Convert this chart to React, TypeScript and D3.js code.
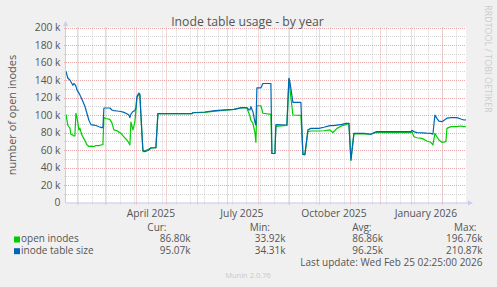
import React, { useEffect } from "react";
import * as d3 from "d3";

// ---- data ----
const dates: string[] = [
  "2025-01-21", "2025-01-23", "2025-01-25", "2025-01-26", "2025-01-28", "2025-01-29", "2025-01-30", "2025-01-31",
  "2025-02-01", "2025-02-03", "2025-02-04", "2025-02-06", "2025-02-09", "2025-02-11", "2025-02-13", "2025-02-15",
  "2025-02-18", "2025-02-20", "2025-02-23", "2025-02-26", "2025-02-27", "2025-02-28", "2025-03-02", "2025-03-06",
  "2025-03-08", "2025-03-10", "2025-03-13", "2025-03-17", "2025-03-20", "2025-03-23", "2025-03-25", "2025-03-26",
  "2025-03-27", "2025-03-29", "2025-03-31", "2025-04-01", "2025-04-02", "2025-04-04", "2025-04-05", "2025-04-06",
  "2025-04-08", "2025-04-10", "2025-04-14", "2025-04-16", "2025-04-21", "2025-04-23", "2025-05-27", "2025-05-28",
  "2025-06-09", "2025-06-19", "2025-07-08", "2025-07-16", "2025-07-21", "2025-07-23", "2025-07-24", "2025-07-25",
  "2025-07-27", "2025-07-29", "2025-07-30", "2025-07-31", "2025-08-04", "2025-08-06", "2025-08-14", "2025-08-15",
  "2025-08-18", "2025-08-19", "2025-08-30", "2025-09-01", "2025-09-02", "2025-09-05", "2025-09-13", "2025-09-15",
  "2025-09-17", "2025-09-20", "2025-09-23", "2025-10-01", "2025-10-06", "2025-10-12", "2025-10-15", "2025-10-19",
  "2025-10-24", "2025-10-28", "2025-10-31", "2025-11-02", "2025-11-05", "2025-11-15", "2025-11-22", "2025-11-25",
  "2025-11-28", "2026-01-01", "2026-01-02", "2026-01-04", "2026-01-07", "2026-01-12", "2026-01-17", "2026-01-21",
  "2026-01-23", "2026-01-25", "2026-01-27", "2026-01-29", "2026-02-01", "2026-02-05", "2026-02-06", "2026-02-10",
  "2026-02-16", "2026-02-20", "2026-02-23", "2026-02-25",
];

// values in thousands
const openInodes: number[] = [
  101, 88, 85, 78, 77, 76, 76, 102,
  98, 83, 85, 77, 71, 66, 64, 64.5,
  64, 65, 65, 66, 66, 97, 96, 95,
  91, 83, 82, 79, 75, 71.4, 68, 65.7,
  92, 83, 92, 105, 119, 124, 122, 100,
  58, 59, 61, 62, 62.6, 101.5, 101.5, 102.6,
  103, 104.5, 106.5, 108.4, 108, 102, 99, 94,
  90.5, 80, 68.8, 110.6, 110.6, 102, 100.8, 56,
  56, 87, 88, 141, 130, 100, 99.5, 55,
  54.5, 81, 81.7, 81.7, 82, 82.9, 80, 84.7,
  87.8, 89, 90.5, 48, 78.5, 78.3, 78, 79.5,
  79.8, 79.8, 81, 75.2, 74, 73.3, 70.3, 68.8,
  65.7, 79, 75.2, 71.4, 68.8, 69.5, 84.7, 86.7,
  86.7, 87.4, 86.8, 86.8,
];

const inodeTableSize: number[] = [
  150, 142, 140, 138, 134, 136, 135, 133,
  129, 125, 123, 118, 110, 102, 94, 89,
  88.5, 88, 86.6, 85.5, 85.5, 108, 108, 108,
  105.7, 105, 104.6, 104, 103, 101.5, 100, 97,
  101, 104, 105, 108, 121, 125, 124, 100,
  60, 58, 60, 62.6, 62.6, 101.5, 101.5, 102.6,
  103.4, 105, 106.5, 108.4, 108.4, 106, 105.7, 109.5,
  103.8, 92, 88.6, 131, 131, 136, 136, 56,
  56, 89, 88.6, 142, 138, 114.5, 114.5, 55,
  55, 83, 84.7, 84.7, 86, 87.8, 87.8, 88.5,
  89.3, 90.5, 90.5, 48.6, 79, 79, 78, 79.8,
  81, 81, 82.5, 81, 79.8, 79.6, 79.2, 79,
  78, 100, 96.2, 93.1, 92.4, 95.4, 96.5, 97,
  97, 95.4, 94.3, 94.5,
];

const yTickValues: number[] = [0, 20, 40, 60, 80, 100, 120, 140, 160, 180, 200];
const yTickLabels: string[] = ["0", "20 k", "40 k", "60 k", "80 k", "100 k", "120 k", "140 k", "160 k", "180 k", "200 k"];
const xLabelMonths: string[] = ["2025-04-01", "2025-07-01", "2025-10-01", "2026-01-01"];
const xLabelTexts: string[] = ["April 2025", "July 2025", "October 2025", "January 2026"];

const seriesNames: string[] = ["open inodes", "inode table size"];
const seriesColors: string[] = ["#00CC00", "#0066B3"];
const curValues: string[] = ["86.80k", "95.07k"];
const minValues: string[] = ["33.92k", "34.31k"];
const avgValues: string[] = ["86.86k", "96.25k"];
const maxValues: string[] = ["196.76k", "210.87k"];

const title = "Inode table usage - by year";
const yAxisTitle = "number of open inodes";
const lastUpdate = "Last update: Wed Feb 25 02:25:00 2026";
const endTime = new Date(2026, 1, 25, 2, 25, 0);

// ---- layout ----
const W = 497;
const H = 287;
const PX0 = 66;
const PX1 = 466;
const PY0 = 27.5;
const PY1 = 202.5;
const FONT = "'Open Sans', 'DejaVu Sans', sans-serif";
const TEXT = "#555555";

const parse = d3.timeParse("%Y-%m-%d");

export default function App() {
  useEffect(() => {
    document.body.style.margin = "0";
  }, []);

  const start = d3.timeDay.offset(endTime, -400);
  const x = d3.scaleTime().domain([start, endTime]).range([PX0, PX1]);
  const y = d3.scaleLinear().domain([0, 200]).range([PY1, PY0]);

  const pts = dates.map((d) => parse(d) as Date);
  const line = d3
    .line<number>()
    .x((_, i) => x(pts[i]))
    .y((v) => y(v));

  const majorY = yTickValues.filter((v) => v > 0);
  const minorY = d3.range(10, 200, 20);
  const majorX = d3.timeMonth.range(d3.timeMonth.ceil(start), endTime);
  const minorX: Date[] = [];
  for (let t = new Date(2025, 1, 2); t < endTime; t = d3.timeDay.offset(t, 14)) {
    if (t > start) minorX.push(t);
  }

  const legendRows = [242.3, 254];

  return (
    <svg
      width={W}
      height={H}
      style={{ position: "absolute", left: 0, top: 0, display: "block" }}
      fontFamily={FONT}
    >
      <defs>
        <clipPath id="plot">
          <rect x={PX0} y={PY0 - 1} width={PX1 - PX0} height={PY1 - PY0 + 1} />
        </clipPath>
      </defs>
      <rect x={0} y={0} width={W} height={H} fill="#F0F0F0" />
      <rect x={PX0} y={PY0} width={PX1 - PX0} height={PY1 - PY0} fill="#FFFFFF" />

      {/* minor grid */}
      {minorY.map((v) => (
        <line key={"my" + v} x1={PX0 - 2} x2={PX1} y1={Math.round(y(v)) + 0.5} y2={Math.round(y(v)) + 0.5}
          stroke="#D4D4D4" strokeDasharray="1,1" strokeWidth={1} />
      ))}
      {minorX.map((t) => (
        <line key={"mx" + t.getTime()} x1={Math.round(x(t)) + 0.5} x2={Math.round(x(t)) + 0.5} y1={PY0} y2={PY1 + 2}
          stroke="#D4D4D4" strokeDasharray="1,1" strokeWidth={1} />
      ))}
      {/* major grid */}
      {majorY.map((v) => (
        <line key={"My" + v} x1={PX0 - 2} x2={PX1} y1={Math.round(y(v)) + 0.5} y2={Math.round(y(v)) + 0.5}
          stroke="#E8A8A8" strokeDasharray="1,1" strokeWidth={1} />
      ))}
      {majorX.map((t) => (
        <line key={"Mx" + t.getTime()} x1={Math.round(x(t)) + 0.5} x2={Math.round(x(t)) + 0.5} y1={PY0} y2={PY1 + 3}
          stroke="#E8A8A8" strokeDasharray="1,1" strokeWidth={1} />
      ))}

      {/* series */}
      <g clipPath="url(#plot)" fill="none" strokeWidth={1.2} strokeLinejoin="round">
        <path d={line(openInodes) || ""} stroke={seriesColors[0]} />
        <path d={line(inodeTableSize) || ""} stroke={seriesColors[1]} />
      </g>

      {/* axes */}
      <line x1={PX0 - 0.5} x2={PX0 - 0.5} y1={PY1 + 0.5} y2={22} stroke="#C8CCEE" strokeWidth={1} />
      <path d={`M${PX0 - 3},${26} L${PX0 - 0.5},${21} L${PX0 + 2},${26} Z`} fill="#C8CCEE" />
      <line x1={PX0 - 0.5} x2={471} y1={PY1 + 0.5} y2={PY1 + 0.5} stroke="#C8CCEE" strokeWidth={1} />
      <path d={`M${468},${PY1 - 2} L${473},${PY1 + 0.5} L${468},${PY1 + 3} Z`} fill="#C8CCEE" />

      {/* y tick labels */}
      {yTickValues.map((v, i) => (
        <text key={"yt" + v} x={60.5} y={y(v) + 3.6} textAnchor="end" fontSize={10.3} fill={TEXT}>
          {yTickLabels[i]}
        </text>
      ))}
      {/* x labels */}
      {xLabelMonths.map((m, i) => (
        <text key={"xl" + m} x={x(d3.timeDay.offset(parse(m) as Date, 15))} y={217} textAnchor="middle" fontSize={10.3} fill={TEXT}>
          {xLabelTexts[i]}
        </text>
      ))}

      {/* title */}
      <text x={247.5} y={26} textAnchor="middle" fontSize={12.2} fill={TEXT}>{title}</text>
      {/* y axis title */}
      <text transform={`translate(15.5, ${(PY0 + PY1) / 2}) rotate(-90)`} textAnchor="middle" fontSize={11} fill={TEXT}>
        {yAxisTitle}
      </text>
      {/* watermark */}
      <text transform="translate(485, 5) rotate(90)" textAnchor="start" fontSize={9} fill="#CBCBCB">
        RRDTOOL / TOBI OETIKER
      </text>

      {/* legend */}
      <text x={166.5} y={230.7} textAnchor="end" fontSize={10} fill={TEXT}>Cur:</text>
      <text x={270} y={230.7} textAnchor="end" fontSize={10} fill={TEXT}>Min:</text>
      <text x={371.5} y={230.7} textAnchor="end" fontSize={10} fill={TEXT}>Avg:</text>
      <text x={476.5} y={230.7} textAnchor="end" fontSize={10} fill={TEXT}>Max:</text>
      {seriesNames.map((name, i) => (
        <g key={name}>
          <rect x={14} y={legendRows[i] - 5.8} width={6} height={6} fill={seriesColors[i]} />
          <text x={21} y={legendRows[i]} fontSize={10} fill={TEXT}>{name}</text>
          <text x={190.5} y={legendRows[i]} textAnchor="end" fontSize={10} fill={TEXT}>{curValues[i]}</text>
          <text x={285.5} y={legendRows[i]} textAnchor="end" fontSize={10} fill={TEXT}>{minValues[i]}</text>
          <text x={383} y={legendRows[i]} textAnchor="end" fontSize={10} fill={TEXT}>{avgValues[i]}</text>
          <text x={482.5} y={legendRows[i]} textAnchor="end" fontSize={10} fill={TEXT}>{maxValues[i]}</text>
        </g>
      ))}
      <text x={482.5} y={265.7} textAnchor="end" fontSize={10} fill={TEXT}>{lastUpdate}</text>
      <text x={248} y={277.5} textAnchor="middle" fontSize={7.5} fill="#C8C8C8">Munin 2.0.76</text>
    </svg>
  );
}
